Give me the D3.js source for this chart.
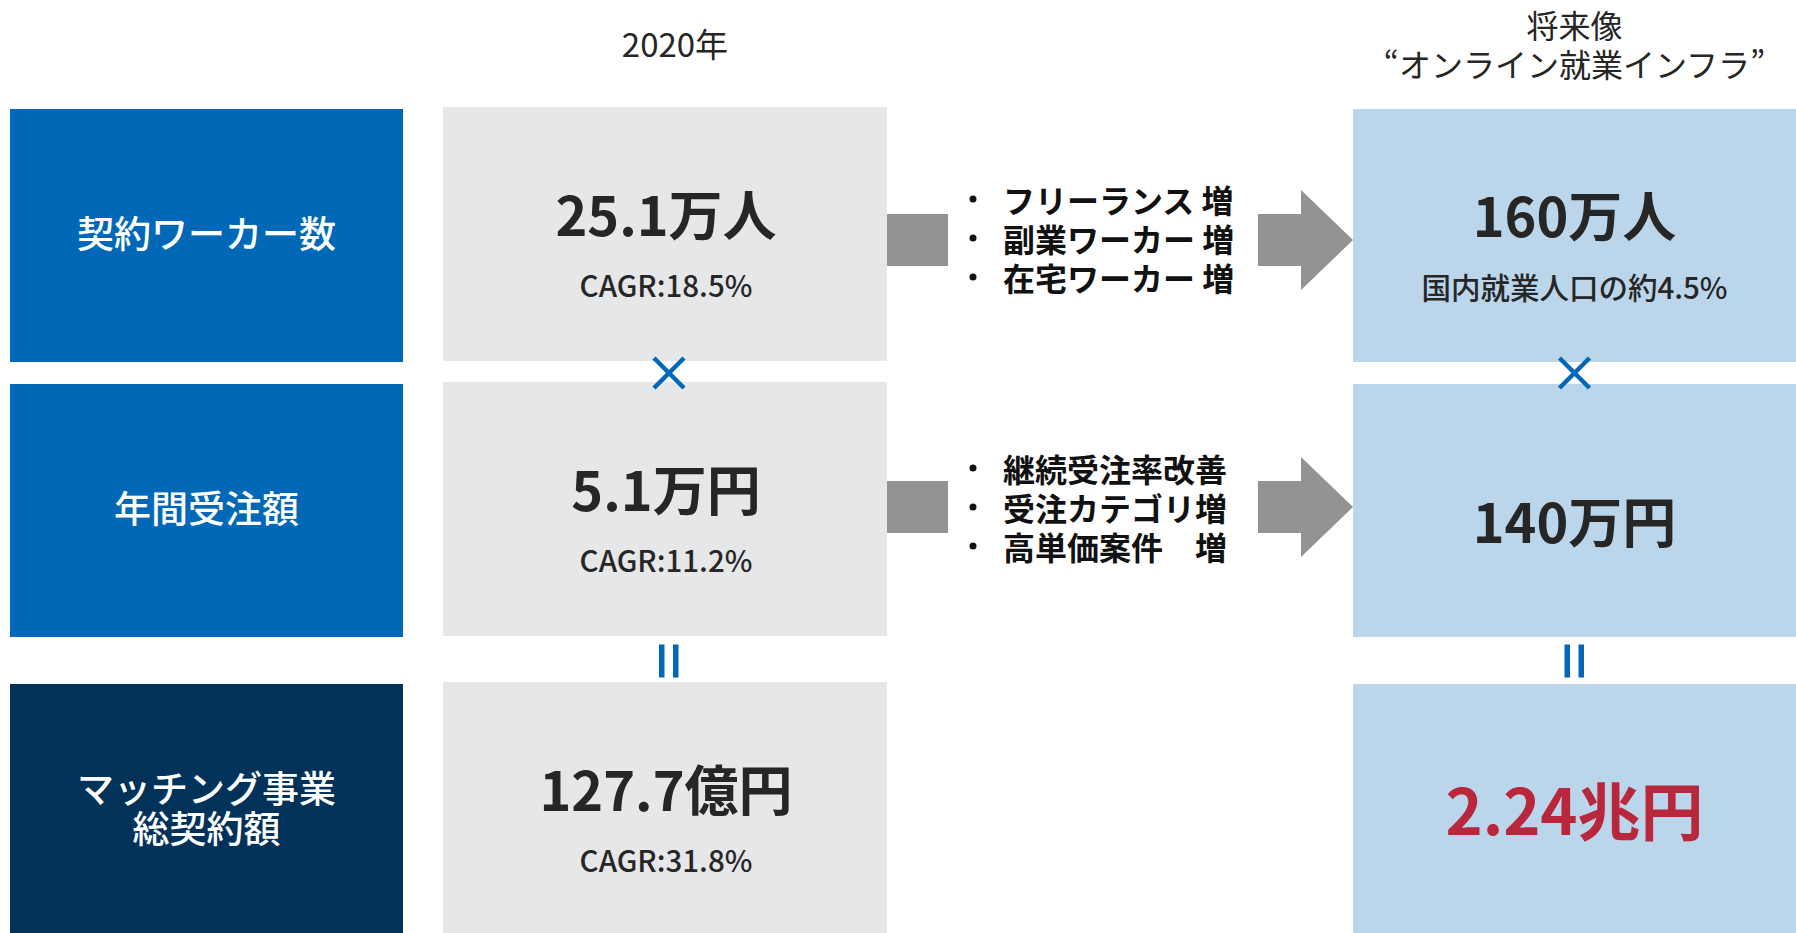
<!DOCTYPE html>
<html lang="ja">
<head>
<meta charset="utf-8">
<script src="https://cdn.jsdelivr.net/npm/d3@7"></script>
<style>
  body { margin: 0; background: #fff; }
  svg { display: block; font-family: "Noto Sans CJK JP", "Noto Sans", sans-serif; }
</style>
</head>
<body>
<div id="chart"></div>
<script>
// data
const rowLabels = [["契約ワーカー数"], ["年間受注額"], ["マッチング事業", "総契約額"]];
const currentValues = ["25.1万人", "5.1万円", "127.7億円"];
const currentCagr = ["CAGR:18.5%", "CAGR:11.2%", "CAGR:31.8%"];
const futureValues = ["160万人", "140万円", "2.24兆円"];
const futureNotes = ["国内就業人口の約4.5%", "", ""];
const drivers = [
  ["フリーランス 増", "副業ワーカー 増", "在宅ワーカー 増"],
  ["継続受注率改善", "受注カテゴリ増", "高単価案件　増"]
];
const operators = ["×", "="];
const currentHeader = ["2020年"];
const futureHeader = ["将来像", "“オンライン就業インフラ”"];

// layout
const width = 1796, height = 933;
const rowTop = d3.scaleOrdinal().domain([0, 1, 2]).range([109, 384, 684]);
const rowH = 253;
const col = {
  label: { x: 10, w: 393 },
  current: { x: 443, w: 444 },
  future: { x: 1353, w: 443 }
};
const colors = {
  labelBlue: "#0068b7",
  labelNavy: "#00325a",
  current: "#e6e7e9",
  future: "#bbd6ea",
  arrow: "#939393",
  op: "#0068b7",
  text: "#262626",
  red: "#b8273b"
};
const arrowY = [240, 507];
const driverY = [238, 507];
const futureValueDy = [104, 135, 123];

const svg = d3.select("#chart").append("svg")
  .attr("width", width)
  .attr("height", height);

// headers
svg.append("text")
  .attr("x", col.current.x + col.current.w / 2 + 10)
  .attr("y", 43)
  .attr("text-anchor", "middle")
  .attr("dominant-baseline", "central")
  .style("font-size", "33px")
  .style("fill", colors.text)
  .text(currentHeader[0]);

svg.selectAll(".fhead")
  .data(futureHeader)
  .enter()
  .append("text")
  .attr("x", col.future.x + col.future.w / 2)
  .attr("y", (d, i) => 24 + i * 39)
  .attr("text-anchor", "middle")
  .attr("dominant-baseline", "central")
  .style("font-size", "32px")
  .style("fill", colors.text)
  .text((d) => d);

// row label boxes
const rows = d3.range(rowLabels.length);

svg.selectAll(".labelbox")
  .data(rows)
  .enter()
  .append("rect")
  .attr("x", col.label.x)
  .attr("y", (i) => rowTop(i))
  .attr("width", col.label.w)
  .attr("height", rowH)
  .attr("fill", (i) => i === 2 ? colors.labelNavy : colors.labelBlue);

rows.forEach((i) => {
  const lines = rowLabels[i];
  const cy = rowTop(i) + rowH / 2 - 4;
  lines.forEach((t, j) => {
    svg.append("text")
      .attr("x", col.label.x + col.label.w / 2)
      .attr("y", cy + (j - (lines.length - 1) / 2) * 40)
      .attr("text-anchor", "middle")
      .attr("dominant-baseline", "central")
      .style("font-size", "37px")
      .style("font-weight", "500")
      .style("fill", "#fff")
      .text(t);
  });
});

// 2020 boxes
svg.selectAll(".curbox")
  .data(rows)
  .enter()
  .append("rect")
  .attr("x", col.current.x)
  .attr("y", (i) => rowTop(i) - 2)
  .attr("width", col.current.w)
  .attr("height", rowH + 1)
  .attr("fill", colors.current);

rows.forEach((i) => {
  const top = rowTop(i) - 2;
  const cx = col.current.x + col.current.w / 2 + 1;
  svg.append("text")
    .attr("x", cx)
    .attr("y", top + 105)
    .attr("text-anchor", "middle")
    .attr("dominant-baseline", "central")
    .style("font-size", "54px")
    .style("font-weight", "700")
    .style("fill", colors.text)
    .text(currentValues[i]);
  svg.append("text")
    .attr("x", cx)
    .attr("y", top + 177)
    .attr("text-anchor", "middle")
    .attr("dominant-baseline", "central")
    .style("font-size", "29.5px")
    .style("font-weight", "500")
    .style("fill", colors.text)
    .text(currentCagr[i]);
});

// future boxes
svg.selectAll(".futbox")
  .data(rows)
  .enter()
  .append("rect")
  .attr("x", col.future.x)
  .attr("y", (i) => rowTop(i))
  .attr("width", col.future.w)
  .attr("height", rowH)
  .attr("fill", colors.future);

rows.forEach((i) => {
  const top = rowTop(i);
  const cx = col.future.x + col.future.w / 2;
  svg.append("text")
    .attr("x", cx)
    .attr("y", top + futureValueDy[i])
    .attr("text-anchor", "middle")
    .attr("dominant-baseline", "central")
    .style("font-size", i === 2 ? "63px" : "54px")
    .style("font-weight", "700")
    .style("fill", i === 2 ? colors.red : colors.text)
    .text(futureValues[i]);
  if (futureNotes[i]) {
    svg.append("text")
      .attr("x", cx)
      .attr("y", top + 177)
      .attr("text-anchor", "middle")
      .attr("dominant-baseline", "central")
      .style("font-size", "29.5px")
      .style("font-weight", "500")
      .style("fill", colors.text)
      .text(futureNotes[i]);
  }
});

// arrows + drivers
drivers.forEach((list, r) => {
  const y = arrowY[r];
  const x0 = col.current.x + col.current.w;
  svg.append("rect")
    .attr("x", x0)
    .attr("y", y - 26)
    .attr("width", 61)
    .attr("height", 52)
    .attr("fill", colors.arrow);

  const ax = 1258, hx = 1301, tip = col.future.x;
  svg.append("path")
    .attr("d", d3.line()([
      [ax, y - 26], [hx, y - 26], [hx, y - 50], [tip, y],
      [hx, y + 50], [hx, y + 26], [ax, y + 26]
    ]) + "Z")
    .attr("fill", colors.arrow);

  list.forEach((t, j) => {
    const ly = driverY[r] + (j - 1) * 39;
    svg.append("circle")
      .attr("cx", 973)
      .attr("cy", ly)
      .attr("r", 3.5)
      .attr("fill", "#111");
    svg.append("text")
      .attr("x", 1003)
      .attr("y", ly)
      .attr("dominant-baseline", "central")
      .style("font-size", "32px")
      .style("font-weight", "700")
      .style("fill", "#111")
      .style("white-space", "pre")
      .text(t);
  });
});

// operators between rows
const opCols = [col.current.x + col.current.w / 2 + 4, col.future.x + col.future.w / 2];
operators.forEach((op, k) => {
  const y = (rowTop(k) + rowH + rowTop(k + 1)) / 2;
  opCols.forEach((x) => {
    if (op === "×") {
      const s = 15;
      svg.append("path")
        .attr("d", `M${x - s},${y - s}L${x + s},${y + s}M${x + s},${y - s}L${x - s},${y + s}`)
        .attr("stroke", colors.op)
        .attr("stroke-width", 4.5)
        .attr("fill", "none");
    } else {
      [-7, 7].forEach((dx) => {
        svg.append("rect")
          .attr("x", x + dx - 3)
          .attr("y", y - 16)
          .attr("width", 5.5)
          .attr("height", 33)
          .attr("fill", colors.op);
      });
    }
  });
});
</script>
</body>
</html>
